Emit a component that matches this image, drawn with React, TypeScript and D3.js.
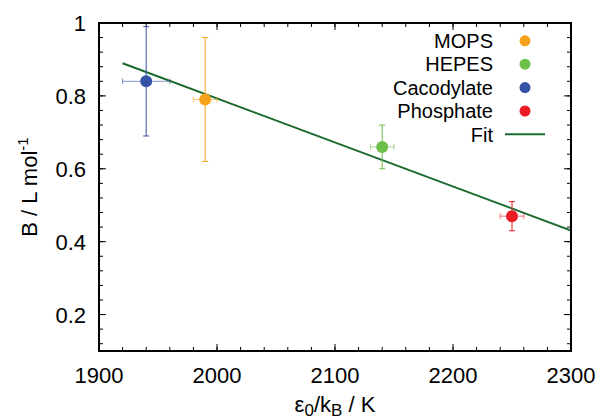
import React from "react";
import * as d3 from "d3";

const buffers = ["MOPS", "HEPES", "Cacodylate", "Phosphate"];
const xValues = [1990, 2140, 1940, 2250];
const yValues = [0.79, 0.66, 0.84, 0.47];
const xErrors = [10, 10, 20, 10];
const yErrors = [0.17, 0.06, 0.15, 0.04];
const colors = ["#f8a21c", "#6cbf47", "#3452a4", "#ec1c24"];

const fitRange = [1920, 2300];
const fitIntercept = 3.209;
const fitSlope = -0.001208;
const fitColor = "#1b6a2f";

const xTicks = [1900, 2000, 2100, 2200, 2300];
const yTicks = [0.2, 0.4, 0.6, 0.8, 1];
const xMinor = d3.range(1900, 2300.1, 20);
const yMinor = d3.range(0.12, 1.001, 0.04);

const W = 601;
const H = 418;
const M = { left: 99, right: 571, top: 23, bottom: 351 };
const FONT = "'Liberation Sans', Arial, Helvetica, sans-serif";

export default function App() {
  const x = d3.scaleLinear().domain([1900, 2300]).range([M.left, M.right]);
  const y = d3.scaleLinear().domain([0.1, 1]).range([M.bottom, M.top]);
  const line = d3
    .line<number>()
    .x((d) => x(d))
    .y((d) => y(fitIntercept + fitSlope * d));

  const cap = 3;
  return (
    <div style={{ position: "absolute", left: 0, top: 0 }}>
      <svg width={W} height={H} style={{ display: "block", background: "#fff" }} fontFamily={FONT}>
        <defs>
          <clipPath id="plot">
            <rect x={M.left} y={M.top} width={M.right - M.left} height={M.bottom - M.top} />
          </clipPath>
        </defs>
        {xMinor.map((v, i) => (
          <g key={"xm" + i} stroke="#000" strokeWidth={1}>
            <line x1={x(v)} x2={x(v)} y1={M.bottom} y2={M.bottom - 4} />
            <line x1={x(v)} x2={x(v)} y1={M.top} y2={M.top + 4} />
          </g>
        ))}
        {yMinor.map((v, i) => (
          <g key={"ym" + i} stroke="#000" strokeWidth={1}>
            <line x1={M.left} x2={M.left + 4} y1={y(v)} y2={y(v)} />
            <line x1={M.right} x2={M.right - 4} y1={y(v)} y2={y(v)} />
          </g>
        ))}
        {xTicks.map((v, i) => (
          <g key={"xt" + i}>
            <line x1={x(v)} x2={x(v)} y1={M.bottom} y2={M.bottom - 7} stroke="#000" />
            <line x1={x(v)} x2={x(v)} y1={M.top} y2={M.top + 7} stroke="#000" />
            <text x={x(v)} y={383} textAnchor="middle" fontSize={22} fill="#000">
              {v}
            </text>
          </g>
        ))}
        {yTicks.map((v, i) => (
          <g key={"yt" + i}>
            <line x1={M.left} x2={M.left + 7} y1={y(v)} y2={y(v)} stroke="#000" />
            <line x1={M.right} x2={M.right - 7} y1={y(v)} y2={y(v)} stroke="#000" />
            <text x={86} y={y(v) + 8} textAnchor="end" fontSize={22} fill="#000">
              {String(v)}
            </text>
          </g>
        ))}
        <path
          d={line(fitRange) || ""}
          stroke={fitColor}
          strokeWidth={2}
          fill="none"
          clipPath="url(#plot)"
        />
        {buffers.map((b, i) => {
          const cx = x(xValues[i]);
          const cy = y(yValues[i]);
          const y0 = y(yValues[i] - yErrors[i]);
          const y1 = y(yValues[i] + yErrors[i]);
          const x0 = x(xValues[i] - xErrors[i]);
          const x1 = x(xValues[i] + xErrors[i]);
          return (
            <g key={b} stroke={colors[i]} strokeWidth={1}>
              <line x1={cx} x2={cx} y1={y0} y2={y1} />
              <line x1={cx - cap} x2={cx + cap} y1={y0} y2={y0} />
              <line x1={cx - cap} x2={cx + cap} y1={y1} y2={y1} />
              <line x1={x0} x2={x1} y1={cy} y2={cy} strokeOpacity={0.6} />
              <line x1={x0} x2={x0} y1={cy - cap} y2={cy + cap} strokeOpacity={0.6} />
              <line x1={x1} x2={x1} y1={cy - cap} y2={cy + cap} strokeOpacity={0.6} />
              <circle cx={cx} cy={cy} r={6} fill={colors[i]} stroke="none" />
            </g>
          );
        })}
        <rect
          x={M.left}
          y={M.top}
          width={M.right - M.left}
          height={M.bottom - M.top}
          fill="none"
          stroke="#000"
          strokeWidth={2}
        />
        {buffers.map((b, i) => (
          <g key={"lg" + b}>
            <text x={493} y={41 + i * 23.4 + 7} textAnchor="end" fontSize={20} fill="#000">
              {b}
            </text>
            <circle cx={525} cy={40.8 + i * 23.4} r={5.5} fill={colors[i]} />
          </g>
        ))}
        <text x={493} y={41 + 4 * 23.4 + 7} textAnchor="end" fontSize={20} fill="#000">
          Fit
        </text>
        <line x1={505} x2={545} y1={134.3} y2={134.3} stroke={fitColor} strokeWidth={2} />
        <text x={335} y={412} textAnchor="middle" fontSize={22} fill="#000">
          ε
          <tspan fontSize={17} dy={4}>0</tspan>
          <tspan dy={-4}>/k</tspan>
          <tspan fontSize={17} dy={4}>B</tspan>
          <tspan dy={-4}> / K</tspan>
        </text>
        <text
          transform={`translate(37, ${(M.top + M.bottom) / 2}) rotate(-90)`}
          textAnchor="middle"
          fontSize={22}
          fill="#000"
        >
          B / L mol
          <tspan fontSize={15} dy={-9}>-1</tspan>
        </text>
      </svg>
    </div>
  );
}
